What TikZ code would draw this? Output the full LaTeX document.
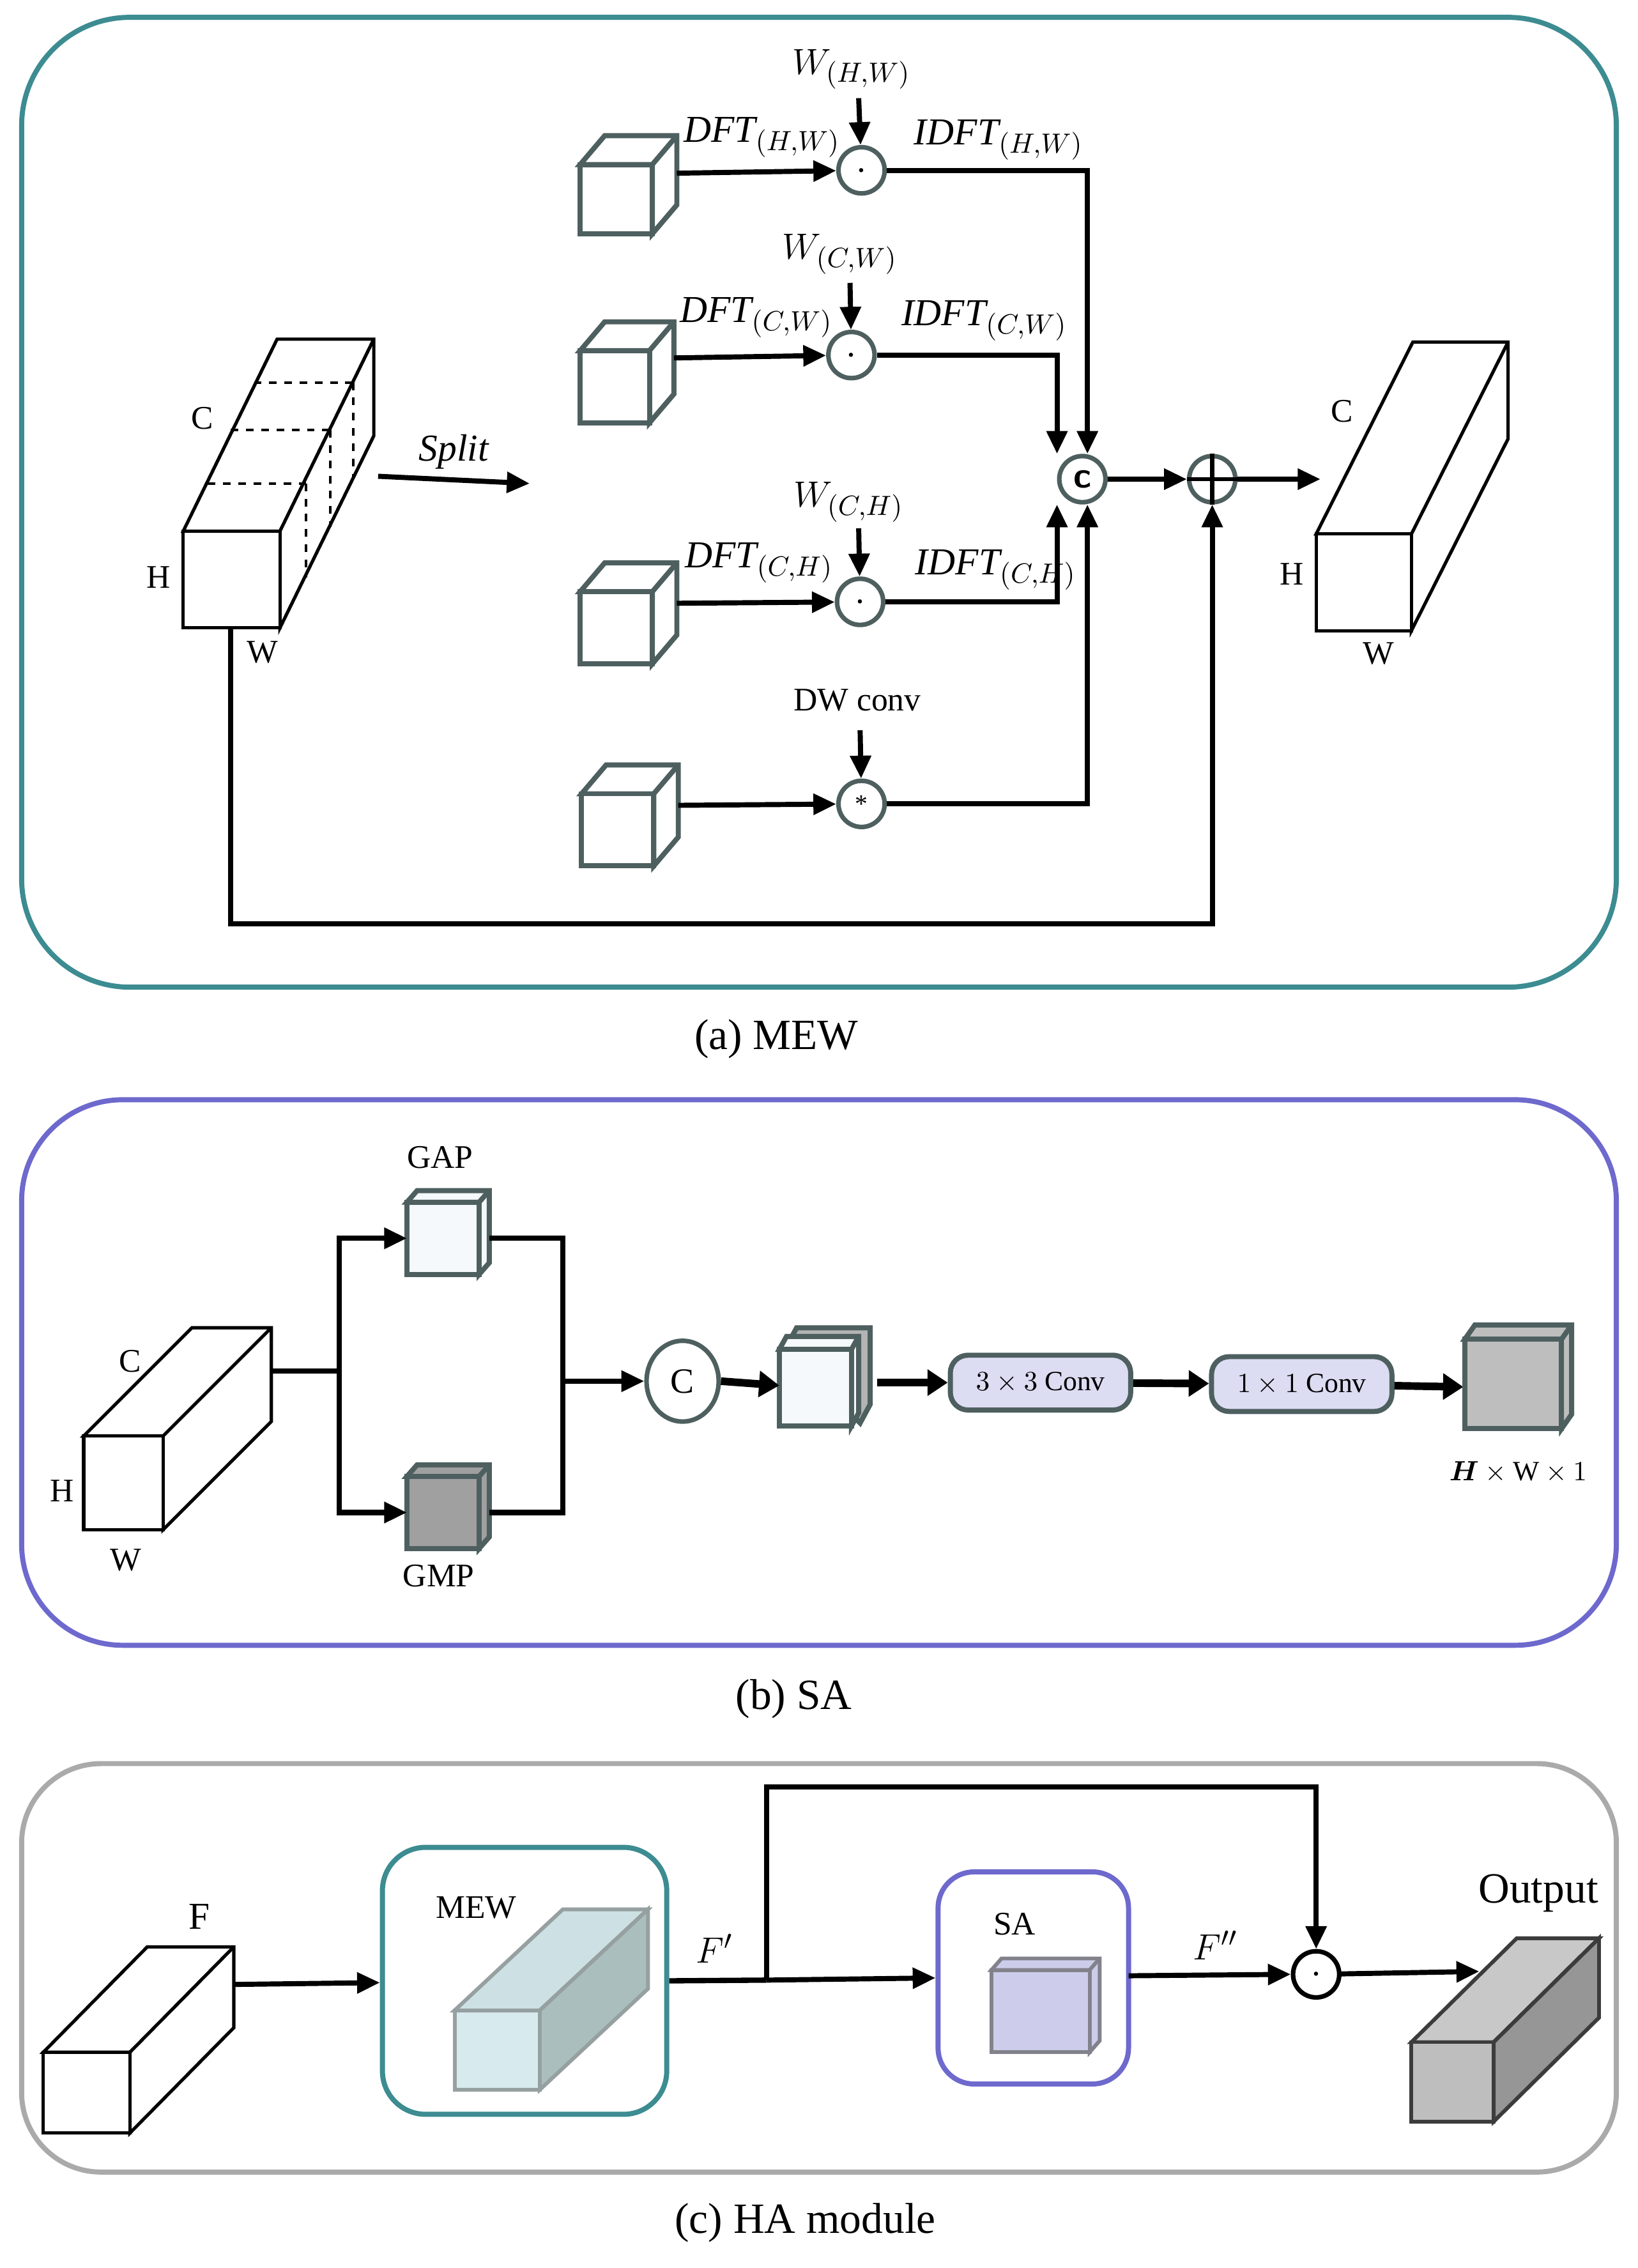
\documentclass[tikz,border=0pt]{standalone}
\usepackage{amsmath}
\usepackage{fontspec}
\setmainfont{Liberation Serif}
\usetikzlibrary{arrows.meta,shapes.geometric}
\definecolor{teal1}{RGB}{60,140,145}
\definecolor{purp}{RGB}{110,105,205}
\definecolor{gborder}{RGB}{170,170,170}
\definecolor{edge}{RGB}{78,95,95}
\definecolor{lav}{RGB}{220,220,242}
\newcommand{\cubo}[7][]{%
 \draw[#1] (#2,{-#3}) -- ++(#6,#7) -- ++(#4,0) -- ++(0,{-#5}) -- ++({-#6},{-#7}) -- ++(0,#5) -- cycle;
 \draw[#1] (#2,{-#3}) rectangle ++(#4,{-#5});
 \draw[#1] ({#2+#4},{-#3}) -- ++(#6,#7);}
\begin{document}
\begin{tikzpicture}[x=0.02cm,y=0.02cm,
 ln/.style={line width=2.1pt},
 arr/.style={line width=2pt,-{Triangle[length=9pt,width=8pt]}},
 tarr/.style={line width=3pt,-{Triangle[length=8pt,width=10pt]}},
 cir/.style={circle,draw=edge,line width=1.8pt,minimum size=32*0.02cm,inner sep=0pt,fill=white},
 cb/.style={draw=edge,line width=2pt,fill=white,line join=miter},
 wc/.style={draw=black,line width=1.3pt,fill=white},
 lbl/.style={font=\fontsize{13}{15}\selectfont},
 mlbl/.style={font=\fontsize{15}{17}\selectfont},
 captxt/.style={font=\fontsize{17}{20}\selectfont},
 conv/.style={draw=edge,line width=2pt,fill=lav,rounded corners=7pt,minimum width=125*0.02cm,minimum height=38*0.02cm,font=\fontsize{11}{13}\selectfont}]
\useasboundingbox (0,0) rectangle (1135,-1571.5);
%% ---------- (a) ----------
\draw[teal1,line width=2pt,rounded corners=75*0.02cm] (15,-12) rectangle (1120,-684);
\node[captxt] (capa) at (538,-720) {(a) MEW};
\cubo[wc]{127}{368}{67}{67}{65}{133}
\draw[dashed,line width=1pt] (176,-265)--(245,-265) (160,-298)--(230,-298) (144,-335)--(212,-335)
 (245,-265)--(245,-332) (229,-298)--(229,-365) (212,-335)--(212,-400);
\node[lbl] (Ca) at (140,-290) {C};
\node[lbl] (Ha) at (110,-400) {H};
\node[lbl] (Wa) at (182,-452) {W};
\coordinate (s1) at (262,-330); \coordinate (s2) at (367,-335);
\draw[arr] (s1) -- node[above,font=\fontsize{15}{17}\selectfont\itshape]{Split} (s2);
\cubo[cb]{402}{114}{50}{48}{17}{20}
\cubo[cb]{402}{243}{48}{50}{17}{20}
\cubo[cb]{402}{410}{50}{50}{17}{20}
\cubo[cb]{403}{550}{50}{50}{17}{20}
\node[cir] (o1) at (597,-118) {\textbf{.}};
\node[cir] (o2) at (590,-246) {\textbf{.}};
\node[cir] (o3) at (596,-417) {\textbf{.}};
\node[cir] (o4) at (597,-557) {*};
\coordinate (k1) at (469,-120); \coordinate (k2) at (467,-248);
\coordinate (k3) at (469,-418); \coordinate (k4) at (470,-558);
\draw[arr] (k1) -- (o1); \draw[arr] (k2) -- (o2); \draw[arr] (k3) -- (o3); \draw[arr] (k4) -- (o4);
\node[mlbl] (w1) at (590,-48) {$W_{(H,W)}$};
\node[mlbl] (w2) at (582,-176) {$W_{(C,W)}$};
\node[mlbl] (w3) at (588,-348) {$W_{(C,H)}$};
\node[lbl] (w4) at (594,-485) {DW conv};
\draw[arr] (595,-68) -- (o1); \draw[arr] (589,-196) -- (o2);
\draw[arr] (595,-366) -- (o3); \draw[arr] (596,-506) -- (o4);
\node[mlbl] at (528,-95) {$\mathit{DFT}_{(H,W)}$};
\node[mlbl] at (524,-220) {$\mathit{DFT}_{(C,W)}$};
\node[mlbl] at (526,-390) {$\mathit{DFT}_{(C,H)}$};
\node[mlbl] at (692,-97) {$\mathit{IDFT}_{(H,W)}$};
\node[mlbl] at (682,-222) {$\mathit{IDFT}_{(C,W)}$};
\node[mlbl] at (690,-395) {$\mathit{IDFT}_{(C,H)}$};
\node[cir,font=\sffamily\bfseries\Large] (cc) at (750,-332) {c};
\node[cir] (pl) at (840,-332) {};
\draw[line width=1.6pt] (pl.north) -- (pl.south) (pl.west) -- (pl.east);
\draw[arr] (o1) -| ([xshift=2pt]cc.north);
\draw[arr] (o2) -| ([xshift=-10pt]cc.north);
\draw[arr] (o3) -| ([xshift=-10pt]cc.south);
\draw[arr] (o4) -| ([xshift=2pt]cc.south);
\draw[arr] (cc) -- (pl);
\coordinate (ra) at (915,-332);
\draw[arr] (pl) -- (ra);
\coordinate (sk) at (160,-435);
\draw[arr] (sk) -- (160,-640) -| (pl);
\cubo[wc]{912}{370}{66}{67}{67}{133}
\node[lbl] (Cr) at (930,-285) {C};
\node[lbl] (Hr) at (895,-398) {H};
\node[lbl] (Wr) at (955,-453) {W};
%% ---------- (b) ----------
\draw[purp,line width=2pt,rounded corners=70*0.02cm] (15,-762) rectangle (1120,-1140);
\node[captxt] (capb) at (550,-1177) {(b) SA};
\cubo[wc]{58}{995}{55}{65}{75}{75}
\node[lbl] at (90,-943) {C};
\node[lbl] at (43,-1033) {H};
\node[lbl] at (87,-1081) {W};
\cubo[cb,fill={rgb,255:red,245;green,249;blue,251}]{282}{833}{50}{50}{7}{8}
\cubo[cb,fill={rgb,255:red,160;green,160;blue,160}]{282}{1023}{50}{50}{7}{8}
\node[lbl] at (305,-802) {GAP};
\node[lbl] at (304,-1092) {GMP};
\coordinate (ga) at (282,-858); \coordinate (gm) at (282,-1048);
\draw[ln] (188,-950) -- (235,-950);
\draw[arr,line width=2.1pt] (235,-950) |- (ga);
\draw[arr,line width=2.1pt] (235,-950) |- (gm);
\draw[ln] (339,-858) -| (390,-1048) -- (339,-1048);
\node[ellipse,draw=edge,line width=1.8pt,minimum width=50*0.02cm,minimum height=56*0.02cm,inner sep=0pt,font=\fontsize{14}{16}\selectfont] (ce) at (473,-957) {C};
\draw[arr,line width=2.1pt] (390,-957) -- (ce);
\draw[cb,fill={rgb,255:red,180;green,180;blue,180}] (545,-933) -- ++(7,13) -- ++(51,0) -- ++(0,-53) -- ++(-7,-13) -- cycle;
\cubo[cb,fill={rgb,255:red,245;green,249;blue,251}]{540}{935}{50}{53}{5}{9}
\coordinate (st) at (540,-960);
\draw[tarr] (ce.east) -- (st);
\node[conv] (c3) at (721,-958) {$3\times3$ Conv};
\node[conv] (c1) at (902,-959) {$1\times1$ Conv};
\coordinate (p3) at (608,-958);
\draw[tarr] (p3) -- (c3);
\draw[tarr] (c3) -- (c1);
\coordinate (oc) at (1014,-961);
\draw[tarr] (c1) -- (oc);
\cubo[cb,fill={rgb,255:red,190;green,190;blue,190}]{1015}{928}{67}{62}{7}{10}
\node[font=\fontsize{11}{13}\selectfont] at (1052,-1020) {$\boldsymbol{H}\times\mathrm{W}\times1$};
%% ---------- (c) ----------
\draw[gborder,line width=2pt,rounded corners=55*0.02cm] (15,-1222) rectangle (1120,-1505);
\node[captxt] (capc) at (558,-1540) {(c) HA module};
\cubo[wc]{30}{1422}{60}{56}{72}{73}
\node[mlbl] at (138,-1328) {F};
\node[draw=teal1,line width=2pt,rounded corners=30*0.02cm,minimum width=197*0.02cm,minimum height=185*0.02cm] (mew) at (363.5,-1372.5) {};
\node[lbl] at (330,-1322) {MEW};
\begin{scope}[draw={rgb,255:red,150;green,160;blue,160},line width=1.5pt]
 \draw[fill={rgb,255:red,205;green,225;blue,228}] (315,-1393) -- ++(75,70) -- ++(59,0) -- ++(-75,-70) -- cycle;
 \draw[fill={rgb,255:red,170;green,190;blue,190}] (374,-1393) -- ++(75,70) -- ++(0,-55) -- ++(-75,-70) -- cycle;
 \draw[fill={rgb,255:red,215;green,235;blue,238}] (315,-1393) rectangle (374,-1448);
\end{scope}
\draw[arr] (163,-1375) -- (mew);
\node[draw=purp,line width=2pt,rounded corners=25*0.02cm,minimum width=132*0.02cm,minimum height=147*0.02cm] (sa) at (716,-1370.5) {};
\node[lbl] at (703,-1333) {SA};
\cubo[draw={rgb,255:red,130;green,130;blue,140},line width=1.5pt,fill={rgb,255:red,205;green,205;blue,235}]{687}{1365}{68}{57}{7}{8}
\coordinate (br) at (531,-1372);
\node[cir,draw=black] (od) at (912,-1368) {\textbf{.}};
\draw[ln] (mew.east) -- (br);
\draw[arr] (br) -- (sa.west);
\draw[arr] (br) -- (531,-1238) -| (od);
\coordinate (se) at (782,-1369);
\draw[arr] (se) -- (od.west);
\node[mlbl] at (495,-1350) {$F'$};
\node[mlbl] at (842,-1348) {$F''$};
\coordinate (oo) at (1025,-1366);
\draw[arr] (od) -- (oo);
\node[font=\fontsize{17}{20}\selectfont] at (1066,-1312) {Output};
\begin{scope}[draw={rgb,255:red,60;green,60;blue,60},line width=1.5pt]
 \draw[fill={rgb,255:red,200;green,200;blue,200}] (978,-1415) -- ++(73,72) -- ++(57,0) -- ++(-73,-72) -- cycle;
 \draw[fill={rgb,255:red,150;green,150;blue,150}] (1035,-1415) -- ++(73,72) -- ++(0,-55) -- ++(-73,-72) -- cycle;
 \draw[fill={rgb,255:red,190;green,190;blue,190}] (978,-1415) rectangle (1035,-1470);
\end{scope}
\end{tikzpicture}
\end{document}
